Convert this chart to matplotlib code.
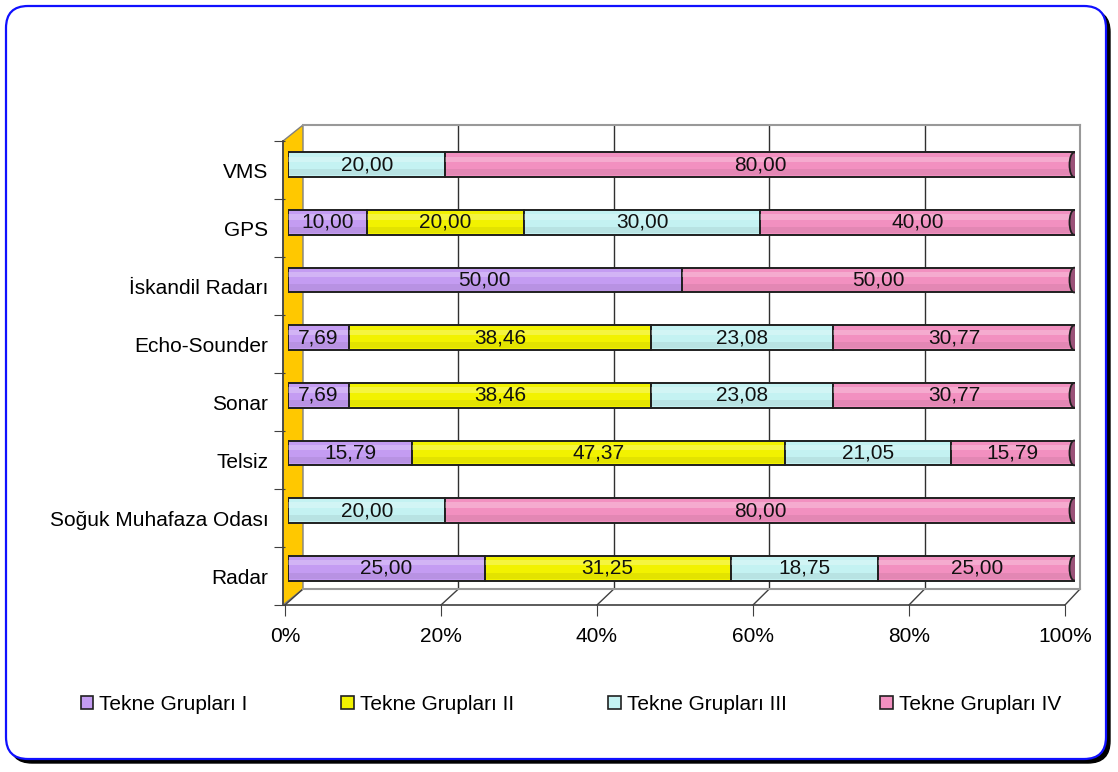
import matplotlib.pyplot as plt
from matplotlib.patches import FancyBboxPatch, Polygon, Ellipse
import numpy as np

plt.rcParams['font.family'] = ['Liberation Sans', 'DejaVu Sans']

# data (bottom to top)
categories = ['Radar', 'Soğuk Muhafaza Odası', 'Telsiz', 'Sonar',
              'Echo-Sounder', 'İskandil Radarı', 'GPS', 'VMS']
grup1 = [25.00, 0, 15.79, 7.69, 7.69, 50.00, 10.00, 0]
grup2 = [31.25, 0, 47.37, 38.46, 38.46, 0, 20.00, 0]
grup3 = [18.75, 20.00, 21.05, 23.08, 23.08, 0, 30.00, 20.00]
grup4 = [25.00, 80.00, 15.79, 30.77, 30.77, 50.00, 40.00, 80.00]
series = [grup1, grup2, grup3, grup4]
names = ['Tekne Grupları I', 'Tekne Grupları II', 'Tekne Grupları III', 'Tekne Grupları IV']
colors = ['#C49CF2', '#F2F200', '#C4F2F2', '#F290C0']
ticks = [0, 20, 40, 60, 80, 100]

W, H = 1118, 772
fig = plt.figure(figsize=(W / 100, H / 100), dpi=100)

def rect(l, t, r, b):
    # pixel box -> figure fraction
    return [l / W, 1 - b / H, (r - l) / W, (b - t) / H]

# background decoration in pixel coords
deco = fig.add_axes([0, 0, 1, 1], zorder=0)
deco.set_xlim(0, W)
deco.set_ylim(H, 0)
deco.axis('off')
deco.add_patch(FancyBboxPatch((10, 10), W - 18, H - 19, boxstyle='round,pad=0,rounding_size=22',
                              fc='black', ec='black', lw=1))
deco.add_patch(FancyBboxPatch((6, 6), W - 18, H - 19, boxstyle='round,pad=0,rounding_size=22',
                              fc='white', ec='#1010FF', lw=1.6))
# side wall
deco.add_patch(Polygon([(283, 141), (303, 125), (303, 589), (283, 605)], closed=True,
                       fc='#FFC800', ec='#808080', lw=1))
deco.plot([283, 283], [141, 605], color='#404040', lw=1.2)
# floor diagonals
for k in range(6):
    xf = 285 + 156 * k
    xb = 303 + 155.4 * k
    deco.plot([xf, xb], [605, 589], color='#404040', lw=1)

# back wall with gridlines
back = fig.add_axes(rect(303, 125, 1080, 589), zorder=1)
back.patch.set_alpha(0)
back.set_xlim(0, 100)
back.set_ylim(0, 1)
for s in ['top', 'right', 'bottom']:
    back.spines[s].set_color('#999999')
    back.spines[s].set_linewidth(1.5)
back.spines['left'].set_visible(False)
back.set_xticks([20, 40, 60, 80])
back.tick_params(length=0, labelbottom=False, left=False, labelleft=False)
back.grid(axis='x', color='#303030', lw=1)

# front axis with ticks and labels
front = fig.add_axes(rect(285, 141, 1065, 605), zorder=2)
front.patch.set_alpha(0)
front.set_xlim(0, 100)
front.set_ylim(-0.5, 7.5)
for s in ['top', 'right', 'left']:
    front.spines[s].set_visible(False)
front.spines['bottom'].set_color('#404040')
front.spines['bottom'].set_linewidth(1.2)
front.set_xticks(ticks)
front.set_xticklabels([f'{t}%' for t in ticks], fontsize=15)
front.tick_params(axis='x', length=8, color='#404040', pad=8)
front.set_yticks(np.arange(-0.5, 8, 1))
front.set_yticklabels([])
front.set_yticks(range(len(categories)), minor=True)
front.set_yticklabels(categories, minor=True, fontsize=15)
front.tick_params(axis='y', which='major', length=8, color='#404040')
front.tick_params(axis='y', which='minor', length=0, pad=12)

# bars
ax = fig.add_axes(rect(288, 136, 1075, 597), zorder=3)
ax.patch.set_alpha(0)
ax.set_xlim(0, 100)
ax.set_ylim(-0.5, 7.5)
ax.axis('off')

y = np.arange(len(categories))
bh = 0.43
left = np.zeros(len(categories))
for vals, c in zip(series, colors):
    vals = np.array(vals)
    ax.barh(y, vals, left=left, height=bh, color=c, edgecolor='#202020', lw=1.4)
    ax.barh(y + bh * 0.22, vals, left=left, height=bh * 0.22, color='white', alpha=0.25, lw=0)
    ax.barh(y - bh * 0.3, vals, left=left, height=bh * 0.25, color='black', alpha=0.06, lw=0)
    for yi, v, l in zip(y, vals, left):
        if v > 0:
            ax.text(l + v / 2, yi, f'{v:.2f}'.replace('.', ','), ha='center', va='center',
                    fontsize=15, color='#111111')
    left = left + vals
for yi in y:
    ax.add_patch(Ellipse((99.9, yi), 1.2, bh, fc='#9A5278', ec='#202020', lw=1.3, zorder=4))

# legend
handles = [plt.Rectangle((0, 0), 1, 1, fc=c, ec='#202020', lw=1.2) for c in colors]
fig.legend(handles, names, loc='center', bbox_to_anchor=(571 / W, 1 - 704 / H), ncol=4,
           frameon=False, fontsize=15, handlelength=0.6, handleheight=0.6,
           handletextpad=0.3, columnspacing=4.5)

fig.savefig('out.png', dpi=100)
